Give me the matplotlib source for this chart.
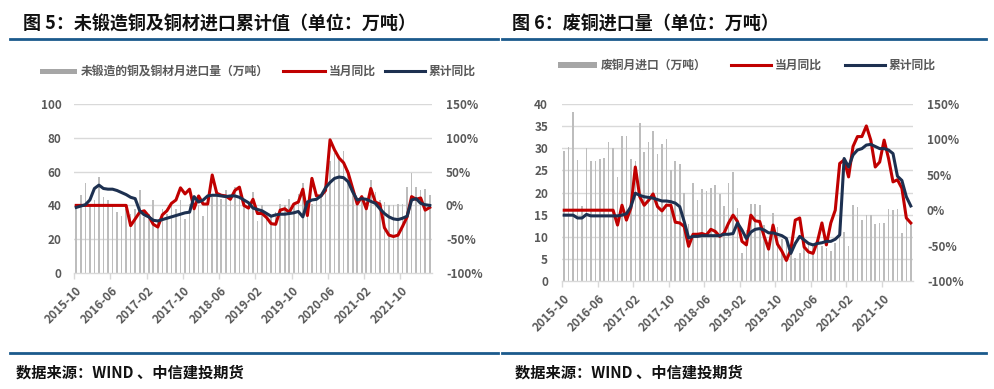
import matplotlib
matplotlib.use('Agg')
import matplotlib.pyplot as plt
from matplotlib.lines import Line2D
from matplotlib.patches import Rectangle
import numpy as np
import pandas as pd

plt.rcParams['font.family'] = ['Noto Sans CJK SC', 'DejaVu Sans']

# ---------------- data ----------------
months = [p.strftime('%Y-%m') for p in pd.period_range('2015-10', '2022-04', freq='M')]
tick_labels = ["2015-10", "2016-06", "2017-02", "2017-10", "2018-06",
               "2019-02", "2019-10", "2020-06", "2021-02", "2021-10"]

# Figure 5: unwrought copper & copper products imports (万吨) and yoy (%)
cu_imports = [41, 46, 53, 40, 43, 57, 45, 43, 41, 36, 34, 38, 35, 38, 49, 33,
              35, 43, 31, 38, 35, 40, 38, 43, 32, 41, 39, 40, 34, 43, 45, 48,
              44, 49, 46, 51, 50, 40, 41, 48, 31, 40, 36, 33, 36, 41, 40, 44,
              41, 47, 53, 33, 41, 43, 45, 49, 66, 71, 68, 72, 61, 47, 43, 45,
              41, 55, 48, 43, 42, 40, 40, 41, 41, 51, 59, 51, 49, 50, 46]
cu_month_yoy = [0, 0, 0, 0, 0, 0, 0, 0, 0, 0, 0, 0, -30, -20, -10, -8,
                -16, -28, -32, -14, -8, 3, 8, 26, 17, 24, -5, 14, 2, 2, 45, 18,
                15, 14, 9, 22, 27, 0, -4, 9, -12, -12, -18, -27, -28, -7, -5, -10,
                2, 5, 24, -15, 40, 14, 14, 22, 97, 82, 70, 63, 48, 25, 2, 13,
                -5, 25, 5, 2, -33, -44, -46, -44, -31, -17, 13, 9, 11, -7, -3]
cu_cum_yoy = [-3, -1, 1, 8, 25, 30, 25, 24, 24, 22, 19, 16, 12, 10, -8, -14,
              -17, -22, -23, -21, -19, -17, -15, -13, -11, -10, 13, 5, 8, 14, 15, 15,
              14, 13, 14, 14, 12, 8, 4, -4, -6, -8, -12, -16, -14, -13, -13, -12,
              -11, -9, -17, 5, 8, 9, 14, 26, 34, 40, 42, 41, 35, 20, 8, 10,
              9, 6, 3, -5, -12, -17, -20, -21, -19, -16, 8, 10, 3, 1, 0]

# Figure 6: scrap copper imports (万吨) and yoy (%)
scrap_imports = [29.4, 30.3, 38.1, 27.3, 16.9, 30.0, 27.2, 27.2, 27.6, 27.9, 31.5, 30.1,
                 23.4, 32.8, 32.8, 27.6, 27.2, 35.8, 29.1, 31.5, 34.0, 28.8, 30.9, 32.2,
                 25.1, 27.2, 26.4, 20.0, 12.8, 22.2, 18.4, 20.9, 20.4, 21.1, 21.7, 19.6,
                 17.0, 22.1, 24.7, 16.6, 6.3, 11.5, 17.4, 17.4, 17.2, 12.7, 8.9, 15.4,
                 12.3, 9.6, 8.5, 7.8, 5.1, 6.3, 8.9, 8.1, 7.8, 9.3, 7.8, 7.4,
                 6.7, 8.5, 10.8, 11.1, 7.9, 17.2, 16.8, 13.8, 14.9, 14.9, 12.8, 13.2,
                 13.2, 16.2, 16.0, 16.2, 10.8, 14.5, 13.4]
scrap_month_yoy = [0, 0, 0, 0, 0, 0, 0, 0, 0, 0, 0, 0,
                   -21, 7, -14, 3, 61, 19, 7, 14, 23, 5, -1, 7,
                   7, -17, -18, -23, -51, -34, -34, -33, -35, -27, -30, -37,
                   -32, -18, -7, -16, -44, -49, -7, -15, -16, -37, -55, -21,
                   -48, -58, -71, -56, -14, -11, -52, -59, -61, -44, -18, -49,
                   -18, 0, 66, 71, 47, 90, 104, 104, 119, 99, 61, 68,
                   99, 73, 40, 43, 31, -11, -18]
scrap_cum_yoy = [-7, -7, -7, -11, -11, -6, -8, -8, -8, -8, -8, -8,
                 -8, -7, -5, 5, 24, 21, 19, 18, 17, 15, 13, 13,
                 12, 10, 5, -16, -39, -37, -37, -36, -36, -36, -36, -36,
                 -34, -34, -33, -18, -28, -40, -31, -27, -26, -28, -32, -32,
                 -34, -36, -40, -61, -47, -37, -42, -47, -49, -47, -46, -44,
                 -44, -41, -35, 73, 61, 78, 85, 87, 92, 93, 90, 87,
                 87, 85, 80, 48, 42, 19, 6]

# ---------------- style ----------------
W, H = 995, 389
GRAY_BAR = '#bdbdbd'
RED = '#c00000'
NAVY = '#1d3050'
GRID = '#d9d9d9'
TXT = '#595959'
BLUE = '#1b5a8c'

fig = plt.figure(figsize=(W / 100, H / 100), dpi=100)


def fx(px):
    return px / W


def fy(py):
    return 1 - py / H


def panel(rect, bars, red, navy, ymax, ystep, lpad, rpad):
    ax = fig.add_axes(rect)
    x = np.arange(len(bars))
    ax.set_xlim(-0.5, len(bars) - 0.5)
    ax.set_ylim(0, ymax)
    yt = np.arange(0, ymax + 0.1, ystep)
    ax.set_yticks(yt)
    ax.set_yticklabels([f"{int(v)}" for v in yt])
    for v in yt[1:]:
        ax.axhline(v, color=GRID, lw=1.0, zorder=0)
    ax.bar(x, bars, width=0.36, color=GRAY_BAR, zorder=1)
    for s in ['top', 'right', 'left']:
        ax.spines[s].set_visible(False)
    ax.spines['bottom'].set_color(GRID)
    ax.spines['bottom'].set_linewidth(1.0)
    tick_pos = [months.index(t) - 0.5 for t in tick_labels]
    ax.set_xticks(tick_pos)
    ax.set_xticklabels([])
    ax.tick_params(axis='x', length=4, color=GRID, width=1)
    ax.tick_params(axis='y', length=0, pad=lpad, labelsize=8.5, labelcolor=TXT)
    for lab in ax.get_yticklabels():
        lab.set_fontweight('bold')
    for t in tick_labels:
        ax.annotate(t, xy=(months.index(t), 0), xycoords='data',
                    xytext=(-1, -8), textcoords='offset points',
                    rotation=45, ha='right', va='top', rotation_mode='anchor',
                    fontsize=8.5, fontweight='bold', color=TXT)
    ax2 = ax.twinx()
    ax2.set_ylim(-100, 150)
    pt = np.arange(-100, 151, 50)
    ax2.set_yticks(pt)
    ax2.set_yticklabels([f"{v}%" for v in pt])
    ax2.tick_params(axis='y', length=0, pad=rpad, labelsize=8.5, labelcolor=TXT)
    for lab in ax2.get_yticklabels():
        lab.set_fontweight('bold')
    for s in ax2.spines.values():
        s.set_visible(False)
    ax2.plot(x, red, color=RED, lw=2.2, solid_joinstyle='round', zorder=3)
    ax2.plot(x, navy, color=NAVY, lw=2.2, solid_joinstyle='round', zorder=4)
    return ax, ax2


panel([fx(74), fy(273), fx(432) - fx(74), fy(104) - fy(273)],
      cu_imports, cu_month_yoy, cu_cum_yoy, 100, 20, 9, 10)
panel([fx(562), fy(281), fx(913) - fx(562), fy(104) - fy(281)],
      scrap_imports, scrap_month_yoy, scrap_cum_yoy, 40, 5, 10, 10)

# titles
fig.text(fx(23), fy(24), "图 5：未锻造铜及铜材进口累计值（单位：万吨）",
         fontsize=13, fontweight='bold', va='center', ha='left', color='#111111')
fig.text(fx(512), fy(24), "图 6：废铜进口量（单位：万吨）",
         fontsize=13, fontweight='bold', va='center', ha='left', color='#111111')

# blue rules
for (x0, x1) in [(10, 498), (502, 986)]:
    fig.add_artist(Line2D([fx(x0), fx(x1)], [fy(39), fy(39)], color=BLUE, lw=2.0,
                          transform=fig.transFigure))
    fig.add_artist(Line2D([fx(x0), fx(x1)], [fy(353), fy(353)], color=BLUE, lw=2.0,
                          transform=fig.transFigure))

# sources
for xs in (16, 515):
    fig.text(fx(xs), fy(373), "数据来源：WIND 、中信建投期货", fontsize=11,
             fontweight='bold', fontstyle='italic', va='center', ha='left', color='#111111')


# legends
def legend(y, patch_x, bar_label, red_x, nav_x):
    fig.add_artist(Rectangle((fx(patch_x[0]), fy(y) - 2.5 / H), fx(patch_x[1] - patch_x[0]), 5 / H,
                             transform=fig.transFigure, color='#a6a6a6', lw=0))
    fig.text(fx(patch_x[1] + 4), fy(y), bar_label, fontsize=8.5, fontweight='bold',
             color=TXT, va='center', ha='left')
    fig.add_artist(Line2D([fx(red_x[0]), fx(red_x[1])], [fy(y), fy(y)], color=RED, lw=2.2,
                          transform=fig.transFigure))
    fig.text(fx(red_x[1] + 4), fy(y), "当月同比", fontsize=8.5, fontweight='bold',
             color=TXT, va='center', ha='left')
    fig.add_artist(Line2D([fx(nav_x[0]), fx(nav_x[1])], [fy(y), fy(y)], color=NAVY, lw=2.2,
                          transform=fig.transFigure))
    fig.text(fx(nav_x[1] + 4), fy(y), "累计同比", fontsize=8.5, fontweight='bold',
             color=TXT, va='center', ha='left')


legend(71, (40, 77), "未锻造的铜及铜材月进口量（万吨）", (283, 325), (385, 425))
legend(65, (558, 597), "废铜月进口（万吨）", (731, 771), (845, 885))

fig.savefig('out.png', dpi=100)
